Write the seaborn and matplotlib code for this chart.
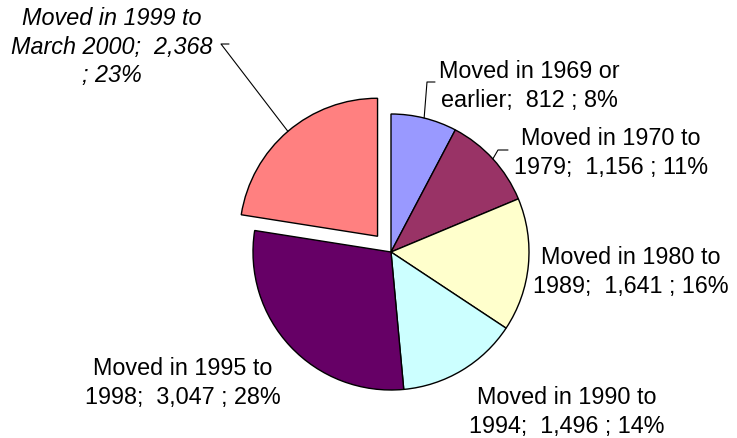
import numpy as np
import matplotlib
matplotlib.use("Agg")
import matplotlib.pyplot as plt
import seaborn as sns

# data, clockwise from 12 o'clock
periods = ["Moved in 1969 or\nearlier;", "Moved in 1970 to\n1979;", "Moved in 1980 to\n1989;",
           "Moved in 1990 to\n1994;", "Moved in 1995 to\n1998;", "Moved in 1999 to\nMarch 2000;"]
counts = [812, 1156, 1641, 1496, 3047, 2368]
pct_labels = ["8%", "11%", "16%", "14%", "28%", "23%"]
colors = ["#9999FF", "#993366", "#FFFFCC", "#CCFFFF", "#660066", "#FF8080"]
explode = [0, 0, 0, 0, 0, 0.15]

W, H = 737, 439

sns.set_theme(style="white")
plt.rcParams['font.family'] = ['Liberation Sans', 'DejaVu Sans']

fig = plt.figure(figsize=(W / 100, H / 100), dpi=100)
ax = fig.add_axes([0, 0, 1, 1])
ax.set_xlim(0, W)
ax.set_ylim(0, H)
ax.set_aspect('equal')
ax.axis('off')

def px(x, y):
    # image pixel coords (top-left origin) -> data coords
    return x, H - y

cx, cy = px(391, 253)
R = 138
# pie's explode is in data units, so scale by the radius
wedges, _ = ax.pie(counts, colors=colors, startangle=90, counterclock=False,
                   explode=[e * R for e in explode], radius=R, center=(cx, cy),
                   wedgeprops=dict(edgecolor='black', linewidth=1.0))
ax.set_xlim(0, W)
ax.set_ylim(0, H)

# label positions (centre of text block) and leader elbows, in image pixels
label_pos = [(529, 86), (611, 153), (631, 272), (567, 412), (183, 383), (112, 47)]
leaders = {0: [(435, 83), (427, 83)], 1: [(508, 151), (498, 151)], 5: [(229, 45), (221, 45)]}

fs = 16.8
for i, w in enumerate(wedges):
    head, tail = periods[i].split("\n")
    txt = "{}\n{}  {:,} ; {}".format(head, tail, counts[i], pct_labels[i])
    style = 'normal'
    if i == 5:
        txt = "{}\n{}  {:,}\n; {}".format(head, tail, counts[i], pct_labels[i])
        style = 'italic'
    lx, ly = px(*label_pos[i])
    ax.text(lx, ly, txt, ha='center', va='center', multialignment='center',
            fontsize=fs, style=style, color='black', linespacing=1.3)
    if i in leaders:
        mid = np.deg2rad((w.theta1 + w.theta2) / 2)
        ox, oy = w.center
        ax_pt = (ox + w.r * np.cos(mid), oy + w.r * np.sin(mid))
        pts = [px(*p) for p in leaders[i]] + [ax_pt]
        ax.plot([p[0] for p in pts], [p[1] for p in pts], color='black', lw=0.8)

fig.savefig("out.png", dpi=100, facecolor='white')
